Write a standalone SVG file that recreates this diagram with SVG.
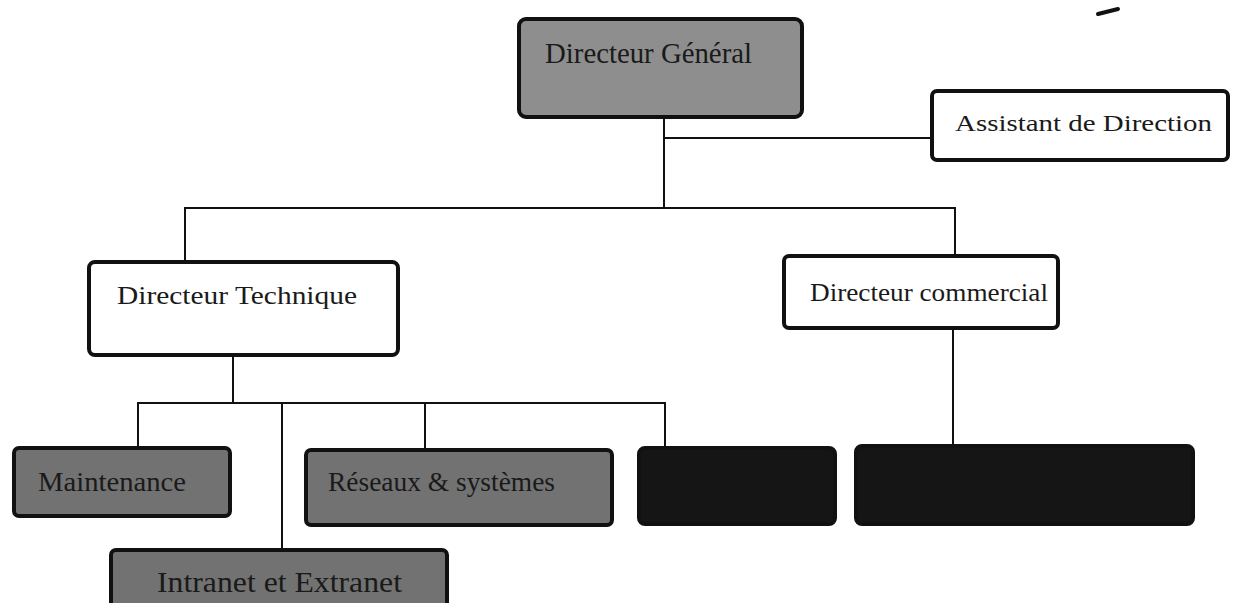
<svg xmlns="http://www.w3.org/2000/svg" width="1233" height="603" viewBox="0 0 1233 603">
<style>
.box{stroke:#111;stroke-width:4;}
.white{fill:#fff;}
.gray{fill:#8e8e8e;}
.dgray{fill:#727272;}
.black{fill:#151515;}
.t{font-family:"Liberation Serif","Times New Roman",serif;fill:#1a1a1a;}
.conn{stroke:#111;stroke-width:2;fill:none;}
</style>
<rect width="1233" height="603" fill="#fff"/>
<g id="connectors">
<polyline class="conn" points="664,117 664,208"/>
<polyline class="conn" points="664,138 932,138"/>
<polyline class="conn" points="185,260 185,208 955,208 955,256"/>
<polyline class="conn" points="233,355 233,403"/>
<polyline class="conn" points="138,448 138,403 665,403 665,447"/>
<polyline class="conn" points="282,403 282,550"/>
<polyline class="conn" points="425,403 425,450"/>
<polyline class="conn" points="953,328 953,445"/>
</g>
<g id="dg">
<rect class="box gray" x="519" y="19" width="283" height="98" rx="7"/>
<text class="t" x="545" y="63" font-size="29" textLength="207" lengthAdjust="spacingAndGlyphs">Directeur Général</text>
</g>
<g id="assistant">
<rect class="box white" x="932" y="91" width="296" height="69" rx="5"/>
<text class="t" x="955" y="131" font-size="23" textLength="257" lengthAdjust="spacingAndGlyphs">Assistant de Direction</text>
</g>
<g id="dtech">
<rect class="box white" x="89" y="262" width="309" height="93" rx="6"/>
<text class="t" x="117" y="304" font-size="25" textLength="240" lengthAdjust="spacingAndGlyphs">Directeur Technique</text>
</g>
<g id="dcom">
<rect class="box white" x="784" y="256" width="274" height="72" rx="5"/>
<text class="t" x="810" y="301" font-size="25" textLength="238" lengthAdjust="spacingAndGlyphs">Directeur commercial</text>
</g>
<g id="maintenance">
<rect class="box dgray" x="14" y="448" width="216" height="68" rx="5"/>
<text class="t" x="38" y="491" font-size="27" textLength="148" lengthAdjust="spacingAndGlyphs">Maintenance</text>
</g>
<g id="reseaux">
<rect class="box dgray" x="306" y="450" width="306" height="75" rx="5"/>
<text class="t" x="328" y="491" font-size="27" textLength="227" lengthAdjust="spacingAndGlyphs">Réseaux  &amp; systèmes</text>
</g>
<g id="intranet">
<rect class="box dgray" x="111" y="550" width="336" height="60" rx="5"/>
<text class="t" x="157" y="592" font-size="30" textLength="245" lengthAdjust="spacingAndGlyphs">Intranet et Extranet</text>
</g>
<g id="black1">
<rect class="box black" x="639" y="448" width="196" height="76" rx="6"/>
</g>
<g id="black2">
<rect class="box black" x="856" y="446" width="337" height="78" rx="6"/>
</g>
<path d="M1098,14 L1118,9" stroke="#111" stroke-width="4" stroke-linecap="round"/>
</svg>
